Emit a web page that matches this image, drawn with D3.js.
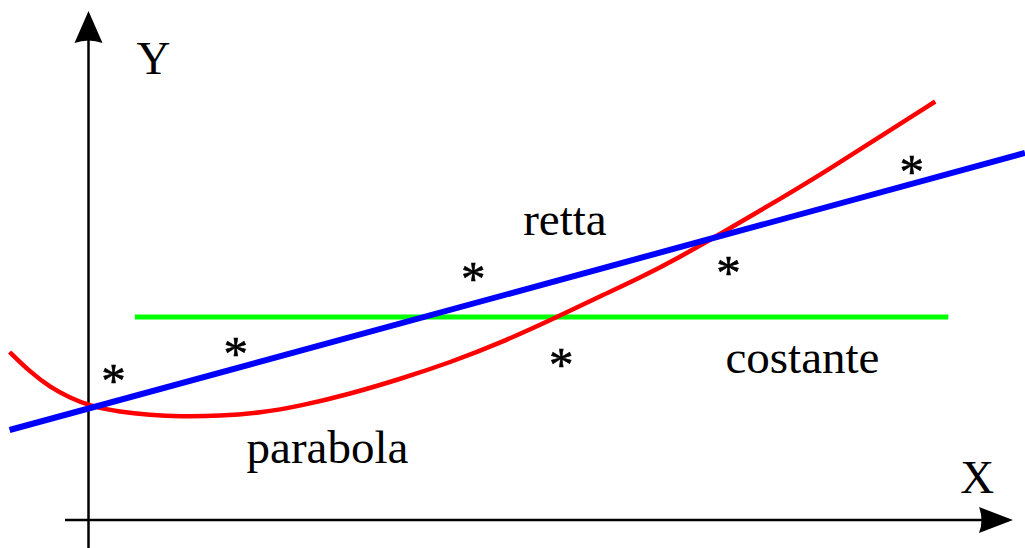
<!DOCTYPE html>
<html>
<head>
<meta charset="utf-8">
<script src="https://cdn.jsdelivr.net/npm/d3@7/dist/d3.min.js"></script>
<style>
  html, body { margin: 0; padding: 0; background: #fff; }
  svg { display: block; }
  text { font-family: "Liberation Serif", "Times New Roman", serif; fill: #000; }
</style>
</head>
<body>
<script>
// ---- data (arbitrary units; origin at the axes crossing) ----
const parabolaX = [-0.86, -0.64, -0.43, -0.21, 0.00, 0.32, 0.64, 0.96, 1.39, 1.82, 2.25, 2.78, 3.32, 3.85, 4.39, 5.00, 5.46, 5.88, 6.31, 6.74, 7.38, 7.91, 8.45, 9.04];
const parabolaY = [1.68, 1.48, 1.33, 1.22, 1.14, 1.08, 1.05, 1.035, 1.04, 1.07, 1.14, 1.26, 1.41, 1.575, 1.77, 2.03, 2.24, 2.42, 2.63, 2.86, 3.21, 3.51, 3.835, 4.185];
const rettaX = [-0.86, 10.0];
const rettaY = [0.90, 3.67];
const costanteX = [0.48, 9.18];
const costanteY = [2.03, 2.03];
const pointsX = [0.25, 1.56, 4.10, 5.04, 6.83, 8.79];
const pointsY = [1.48, 1.75, 2.50, 1.64, 2.56, 3.57];
const labels = [
  {text: "Y", x: 0.68, y: 4.46},
  {text: "X", x: 9.49, y: 0.27},
  {text: "retta", x: 5.08, y: 2.85},
  {text: "costante", x: 7.62, y: 1.47},
  {text: "parabola", x: 2.54, y: 0.57}
];

const W = 1025, H = 548;
const svg = d3.select("body").append("svg").attr("width", W).attr("height", H);

const x = d3.scaleLinear().domain([0, 10]).range([90, 1025]);
const y = d3.scaleLinear().domain([0, 5]).range([520, 20]);

const axisX = 88.5, axisY = 520;

// axes
svg.append("line").attr("x1", axisX).attr("x2", axisX).attr("y1", H).attr("y2", 40)
  .attr("stroke", "#000").attr("stroke-width", 2.5);
svg.append("line").attr("x1", 65).attr("x2", 982).attr("y1", axisY).attr("y2", axisY)
  .attr("stroke", "#000").attr("stroke-width", 2.5);
// arrowheads
svg.append("path")
  .attr("d", `M${axisX},11 L${axisX + 14},43 Q${axisX},38 ${axisX - 14},43 Z`)
  .attr("fill", "#000");
svg.append("path")
  .attr("d", `M1013,${axisY} L979,${axisY - 13} Q984,${axisY} 979,${axisY + 13} Z`)
  .attr("fill", "#000");

const straight = d3.line().x(d => x(d[0])).y(d => y(d[1]));
const smooth = d3.line().x(d => x(d[0])).y(d => y(d[1])).curve(d3.curveBasis);

// costante
svg.append("path").datum(d3.zip(costanteX, costanteY))
  .attr("d", straight).attr("fill", "none").attr("stroke", "#00ff00").attr("stroke-width", 5);
// parabola
svg.append("path").datum(d3.zip(parabolaX, parabolaY))
  .attr("d", smooth).attr("fill", "none")
  .attr("stroke", "#ff0000").attr("stroke-width", 4.5);
// retta
svg.append("path").datum(d3.zip(rettaX, rettaY))
  .attr("d", straight).attr("fill", "none").attr("stroke", "#0000ff").attr("stroke-width", 6);

// data points (asterisks)
svg.selectAll("text.pt").data(d3.zip(pointsX, pointsY)).enter().append("text")
  .attr("class", "pt")
  .attr("x", d => x(d[0])).attr("y", d => y(d[1]) + 25)
  .attr("text-anchor", "middle")
  .attr("font-size", 49)
  .attr("stroke", "#000").attr("stroke-width", 0.6)
  .text("*");

// labels
svg.selectAll("text.lbl").data(labels).enter().append("text")
  .attr("class", "lbl")
  .attr("x", d => x(d.x)).attr("y", d => y(d.y))
  .attr("text-anchor", "middle")
  .attr("font-size", 47)
  .text(d => d.text);
</script>
</body>
</html>
